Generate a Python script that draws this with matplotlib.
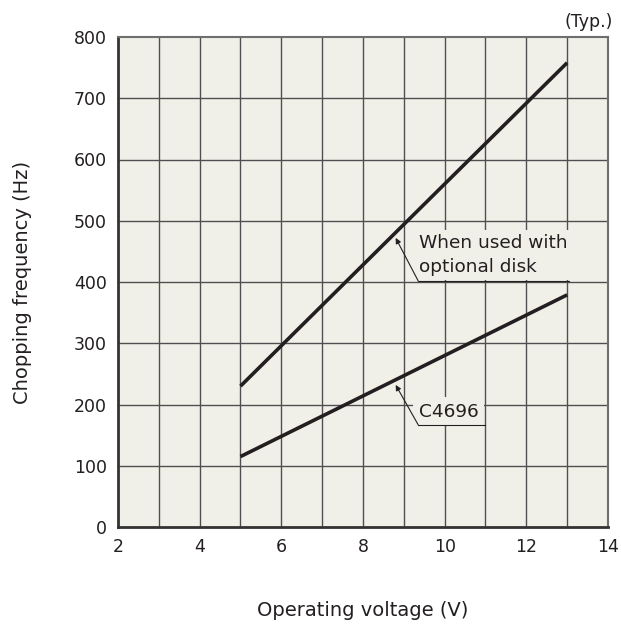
import matplotlib
matplotlib.use("Agg")
import matplotlib.pyplot as plt

# Data
voltage = [5, 13]
freq_disk = [230, 758]
freq_c4696 = [115, 379]
x_ticks = [2, 4, 6, 8, 10, 12, 14]
y_ticks = [0, 100, 200, 300, 400, 500, 600, 700, 800]

plt.rcParams['font.family'] = ['DejaVu Sans']
bg = '#f1f0e8'
dark = '#231f20'

fig = plt.figure(figsize=(6.21, 6.26), dpi=100)
ax = fig.add_axes([118/621, 1 - 527/626, (608-118)/621, (527-37)/626])
ax.set_facecolor(bg)
ax.set_xlim(2, 14)
ax.set_ylim(0, 800)

for xv in range(3, 14):
    ax.axvline(xv, color='#4f4f4f', lw=1.0, zorder=1)
for yv in range(100, 800, 100):
    ax.axhline(yv, color='#4f4f4f', lw=1.0, zorder=1)

ax.set_xticks(x_ticks)
ax.set_yticks(y_ticks)
ax.tick_params(length=0, labelsize=12.5, colors=dark, pad=8)
for s in ['left', 'bottom']:
    ax.spines[s].set_color('#333333')
    ax.spines[s].set_linewidth(2.0)
for s in ['top', 'right']:
    ax.spines[s].set_color('#6e6e6e')
    ax.spines[s].set_linewidth(1.5)

ax.plot(voltage, freq_disk, color=dark, lw=2.6, solid_capstyle='butt', zorder=3)
ax.plot(voltage, freq_c4696, color=dark, lw=2.6, solid_capstyle='butt', zorder=3)

# Annotation 1
ax.text(9.37, 444, 'When used with\noptional disk', fontsize=13.3, color=dark,
        ha='left', va='center', linespacing=1.45, zorder=4,
        bbox=dict(facecolor=bg, edgecolor='none', pad=3))
ax.plot([9.35, 13.05], [402, 402], color=dark, lw=0.8, zorder=5)
ax.annotate('', xy=(8.8, 472), xytext=(9.35, 402),
            arrowprops=dict(arrowstyle='-|>', color=dark, lw=0.8,
                            mutation_scale=8, shrinkA=0, shrinkB=0), zorder=5)

# Annotation 2
ax.text(9.37, 188, 'C4696', fontsize=13.3, color=dark,
        ha='left', va='center', zorder=4,
        bbox=dict(facecolor=bg, edgecolor='none', pad=4))
ax.plot([9.35, 11.0], [167, 167], color=dark, lw=0.8, zorder=5)
ax.annotate('', xy=(8.8, 232), xytext=(9.35, 167),
            arrowprops=dict(arrowstyle='-|>', color=dark, lw=0.8,
                            mutation_scale=8, shrinkA=0, shrinkB=0), zorder=5)

ax.set_xlabel('Operating voltage (V)', fontsize=14, color=dark, labelpad=32)
ax.set_ylabel('Chopping frequency (Hz)', fontsize=14, color=dark, labelpad=30)
ax.text(1.01, 1.012, '(Typ.)', transform=ax.transAxes, fontsize=12.5, color=dark,
        ha='right', va='bottom')

fig.savefig('out.png', dpi=100, facecolor='white')
